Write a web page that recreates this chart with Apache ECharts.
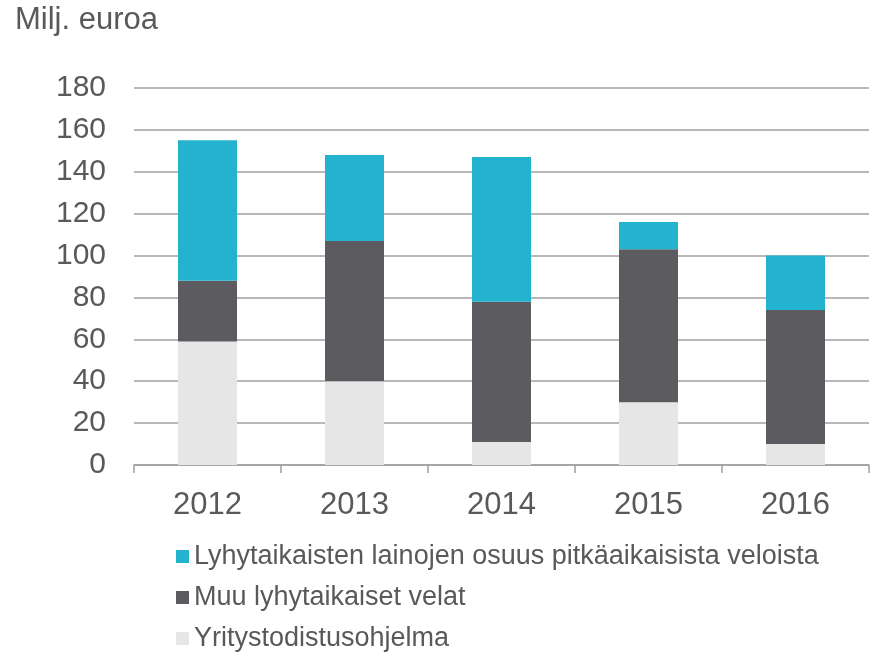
<!DOCTYPE html>
<html>
<head>
<meta charset="utf-8">
<script src="https://cdn.jsdelivr.net/npm/echarts@6/dist/echarts.min.js"></script>
<style>
  html, body { margin: 0; padding: 0; background: #fff; }
  #chart { width: 876px; height: 653px; }
</style>
</head>
<body>
<div id="chart"></div>
<script>
const years = ['2012', '2013', '2014', '2015', '2016']
const yritystodistus = [59, 40, 11, 30, 10]
const muuVelat = [29, 67, 67, 73, 64]
const lyhytOsuus = [67, 41, 69, 13, 26]
const names = [
  'Lyhytaikaisten lainojen osuus pitkäaikaisista veloista',
  'Muu lyhytaikaiset velat',
  'Yritystodistusohjelma'
]

const textColor = '#595959'
const font = 'Liberation Sans, Arial, sans-serif'

let mychart = echarts.init(document.getElementById('chart'))
let option = {
  animation: false,
  title: {
    text: 'Milj. euroa',
    left: 15,
    top: 5,
    padding: 0,
    textStyle: {color: textColor, fontSize: 31, fontWeight: 'normal', fontFamily: font}
  },
  grid: {left: 134, right: 7, top: 88, bottom: 188},
  legend: {
    orient: 'vertical',
    left: 176,
    top: 543,
    height: 140,
    padding: 0,
    itemWidth: 13,
    itemHeight: 13,
    itemGap: 14,
    icon: 'rect',
    data: names,
    textStyle: {color: textColor, fontSize: 27, fontFamily: font}
  },
  xAxis: {
    type: 'category',
    data: years,
    axisLine: {lineStyle: {color: '#a0a0a0', width: 1.5}},
    axisTick: {show: true, length: 8, lineStyle: {color: '#a0a0a0', width: 1.5}},
    axisLabel: {color: textColor, fontSize: 31, fontFamily: font, margin: 25}
  },
  yAxis: {
    type: 'value',
    min: 0,
    max: 180,
    interval: 20,
    axisLine: {show: false},
    axisTick: {show: false},
    splitLine: {lineStyle: {color: '#a0a0a0', width: 1.5}},
    axisLabel: {color: textColor, fontSize: 30, fontFamily: font, margin: 28}
  },
  series: [
    {
      name: names[2],
      type: 'bar',
      stack: 'total',
      data: yritystodistus,
      barWidth: 59,
      itemStyle: {color: '#e6e6e6'}
    },
    {
      name: names[1],
      type: 'bar',
      stack: 'total',
      data: muuVelat,
      barWidth: 59,
      itemStyle: {color: '#5c5b60'}
    },
    {
      name: names[0],
      type: 'bar',
      stack: 'total',
      data: lyhytOsuus,
      barWidth: 59,
      itemStyle: {color: '#24b3ce'}
    }
  ]
}
mychart.setOption(option)
</script>
</body>
</html>
